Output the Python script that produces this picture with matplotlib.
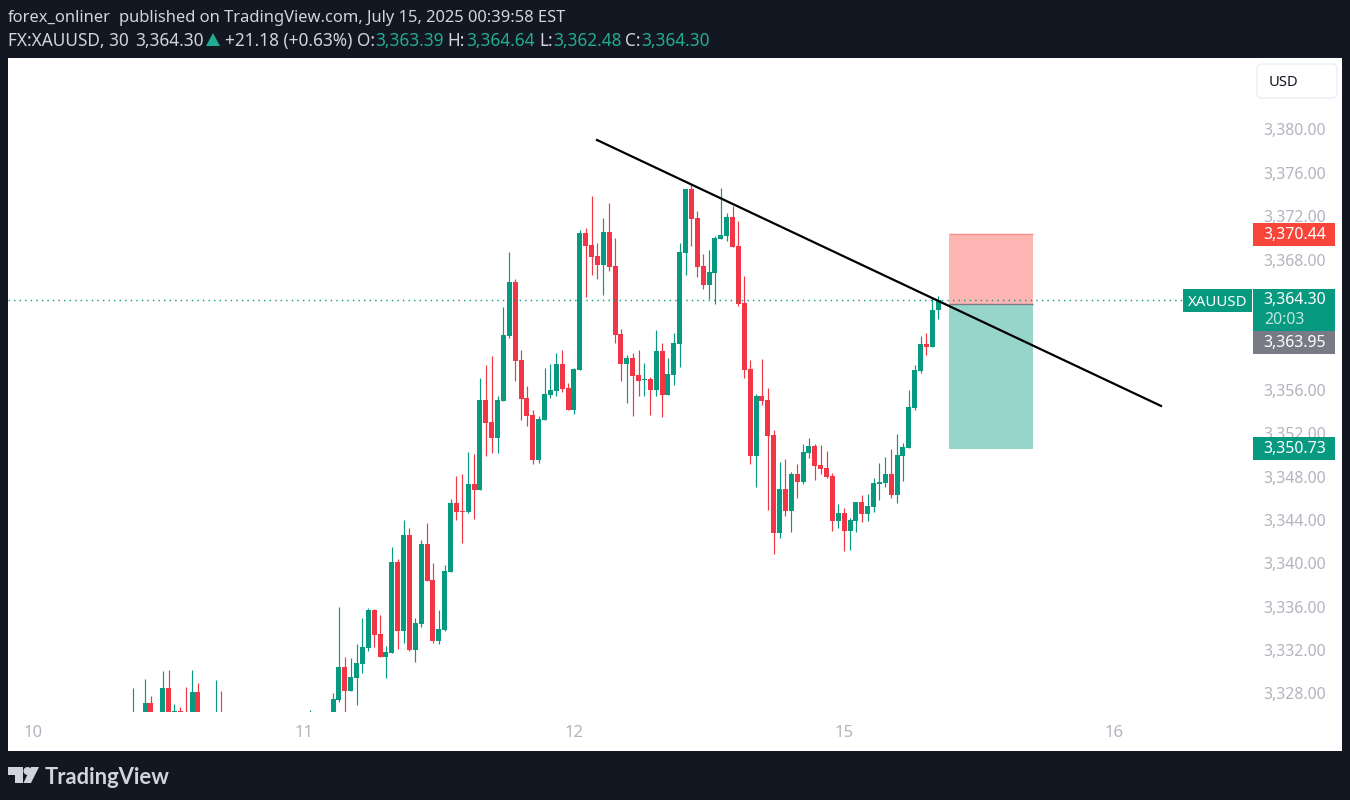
import matplotlib
matplotlib.use("Agg")
import matplotlib.pyplot as plt
from matplotlib.patches import Rectangle, FancyBboxPatch, Polygon, Circle

# ---- data ----
bar_index = [0,2,3,5,6,7,8,9,10,11,14,15,30,34,35,36,37,38,39,40,41,42,43,44,45,46,47,48,49,50,51,52,53,54,55,56,57,58,59,
             60,61,62,63,64,65,66,67,68,69,70,71,72,73,74,75,76,77,78,79,80,81,82,83,84,85,86,87,88,89,90,91,92,93,94,95,96,
             97,98,99,100,101,102,103,104,105,106,107,108,109,110,111,112,113,114,115,116,117,118,119,120,121,122,123,124,125,
             126,127,128,129,130,131,132,133,134,135,136,137]
open_ = [3325.0,3325.5,3327.12,3325.5,3328.51,3326.0,3326.39,3325.5,3325.5,3328.14,3325.0,3325.6,3325.0,3325.5,3327.40,3330.44,3328.23,3329.43,3330.72,3332.19,3335.70,3333.49,3331.36,3331.73,3340.12,3333.76,3342.61,3332.01,3334.41,3341.78,3338.46,3332.84,3333.85,3339.2,3345.56,3344.82,3344.73,3347.31,3346.76,
         3355.06,3353.03,3351.55,3354.96,3360.96,3365.94,3358.74,3355.24,3353.67,3349.52,3353.21,3355.52,3355.89,3358.38,3356.16,3354.13,3357.82,3370.45,3369.35,3368.33,3367.5,3370.55,3367.41,3361.14,3358.38,3358.93,3357.36,3356.9,3356.99,3355.98,3359.57,3355.52,3357.36,3360.22,3368.61,3374.51,3371.84,
         3367.41,3365.66,3366.77,3369.90,3370.18,3371.93,3369.25,3364.0,3357.91,3349.89,3355.42,3355.06,3351.83,3342.79,3346.85,3344.82,3348.23,3347.5,3350.17,3350.81,3349.06,3348.79,3348.05,3343.9,3344.64,3342.98,3343.9,3345.65,3344.55,
         3345.19,3347.31,3347.4,3348.23,3346.3,3349.89,3350.63,3354.32,3357.73,3360.22,3359.94,3363.39]
high = [3328.5,3329.34,3327.77,3330.07,3330.17,3327.03,3326.75,3328.6,3330.17,3328.97,3329.24,3328.23,3326.48,3328.05,3335.97,3331.36,3331.27,3332.56,3334.96,3335.88,3335.79,3335.24,3332.38,3341.51,3340.4,3344.0,3343.26,3334.96,3342.15,3343.72,3340.03,3335.7,3339.85,3345.93,3348.05,3348.24,3350.26,3350.08,3357.08,
        3358.28,3359.11,3355.42,3363.63,3368.70,3366.21,3359.67,3356.35,3354.13,3353.58,3358.0,3358.38,3359.39,3359.67,3356.62,3358.0,3370.73,3370.91,3373.86,3369.53,3371.84,3373.22,3369.99,3361.6,3359.2,3359.39,3359.67,3358.47,3357.18,3361.51,3360.31,3358.93,3361.23,3369.53,3374.51,3374.88,3372.48,
        3368.52,3368.89,3370.18,3374.6,3372.3,3372.94,3371.56,3366.49,3358.74,3355.61,3358.84,3356.16,3352.29,3349.34,3349.62,3348.42,3349.16,3351.0,3351.55,3351.0,3350.91,3350.35,3348.33,3345.47,3345.1,3344.18,3345.65,3346.3,3346.39,
        3347.86,3349.25,3349.8,3350.54,3351.92,3351.09,3355.98,3358.28,3360.96,3361.23,3364.46,3364.64]
low = [3324.5,3325.0,3325.0,3325.0,3325.0,3325.5,3325.8,3325.0,3325.0,3325.0,3324.5,3324.5,3324.5,3325.0,3327.22,3326.0,3328.23,3326.94,3329.89,3331.92,3332.29,3331.36,3329.43,3331.73,3332.1,3332.66,3331.92,3330.9,3334.13,3338.37,3332.66,3332.56,3333.76,3339.2,3344.0,3341.87,3344.64,3344.09,3346.76,
       3349.89,3350.17,3350.17,3354.96,3360.77,3356.81,3353.21,3352.66,3349.15,3349.25,3353.21,3355.24,3355.42,3355.79,3354.13,3353.76,3357.82,3364.55,3366.58,3366.21,3364.74,3366.95,3360.31,3356.81,3354.78,3353.58,3355.42,3355.42,3353.67,3355.42,3353.49,3355.52,3356.44,3358.1,3366.58,3369.25,3366.40,
       3365.29,3364.37,3363.91,3369.90,3369.72,3369.16,3363.72,3357.08,3349.15,3347.03,3354.59,3344.91,3340.86,3342.33,3344.36,3342.88,3346.02,3347.31,3349.71,3347.68,3348.23,3347.86,3342.98,3343.25,3341.13,3341.23,3342.88,3343.81,3343.9,
       3344.73,3345.84,3347.03,3346.02,3345.56,3347.59,3350.63,3354.13,3357.55,3359.2,3359.94,3362.48]
close = [3325.6,3327.12,3325.5,3328.51,3325.5,3326.39,3326.0,3325.0,3328.14,3325.5,3325.6,3325.0,3325.6,3327.49,3330.44,3328.23,3329.52,3330.81,3332.29,3335.70,3333.39,3331.36,3331.83,3340.12,3333.76,3342.61,3332.01,3334.5,3341.78,3338.37,3332.84,3333.95,3339.29,3345.56,3344.73,3344.73,3347.31,3346.76,3355.06,
         3352.94,3351.55,3355.06,3361.05,3365.94,3358.65,3355.15,3353.58,3349.52,3353.30,3355.61,3355.98,3358.38,3356.07,3354.13,3357.91,3370.45,3369.25,3368.24,3367.5,3370.55,3367.32,3361.05,3358.38,3358.93,3357.27,3356.81,3357.0,3355.98,3359.57,3355.52,3357.45,3360.31,3368.70,3374.51,3371.74,3367.32,
         3365.66,3366.86,3369.99,3370.27,3371.93,3369.16,3363.91,3357.82,3349.89,3355.42,3354.96,3351.74,3342.79,3346.85,3344.82,3348.23,3347.5,3350.26,3350.81,3348.97,3348.69,3347.96,3343.9,3344.64,3342.98,3343.99,3345.65,3344.55,3345.28,
         3347.4,3347.5,3348.23,3346.3,3349.98,3350.72,3354.41,3357.82,3360.22,3359.94,3363.35,3364.30]

price_ticks = [3380,3376,3372,3368,3356,3352,3348,3344,3340,3336,3332,3328]
day_positions = [-17,29,75,121,167]
day_labels = ["10","11","12","15","16"]
trend_x = [78.93,174.93]
trend_y = [3379.03,3354.51]
pos_x = [138.84,153.1]
pos_stop, pos_entry, pos_target = 3370.36,3363.90,3350.55
last_price = 3364.30

UP, DOWN = "#089981", "#F23645"
BG = "#131722"
FONT = ["Noto Sans","DejaVu Sans"]
plt.rcParams['font.family'] = FONT

W, H = 1350, 800
fig = plt.figure(figsize=(W/100, H/100), dpi=100, facecolor=BG)

bg = fig.add_axes([0,0,1,1], zorder=0); bg.set_xlim(0,W); bg.set_ylim(H,0); bg.axis("off")
bg.add_patch(Rectangle((8,58),1334,693,fc="white",ec="none"))

ax = fig.add_axes([8/W,(H-712)/H,1244/W,654/H], zorder=1)
ax.patch.set_alpha(0)
ax.set_xlim((8-133.3)/5.875,(1252-133.3)/5.875)
ax.set_ylim(3326.29,3386.59)
for s in ax.spines.values(): s.set_visible(False)
ax.yaxis.tick_right()
ax.set_yticks(price_ticks)
ax.set_yticklabels([f"{p:,.2f}" for p in price_ticks], fontsize=11.4, color="#B2B5BE")
ax.tick_params(axis="y", length=0, pad=8)
ax.set_xticks(day_positions)
ax.set_xticklabels(day_labels, fontsize=12, color="#B2B5BE", fontweight="bold")
ax.tick_params(axis="x", length=0, pad=9.5)

colors = [UP if c >= o else DOWN for o, c in zip(open_, close)]
ax.vlines(bar_index, low, high, colors=colors, linewidth=0.85, zorder=3)
ax.bar(bar_index, [c-o for o,c in zip(open_,close)], bottom=open_, width=0.85, color=colors, linewidth=0, zorder=4)

ax.add_patch(Rectangle((pos_x[0],pos_entry),pos_x[1]-pos_x[0],pos_stop-pos_entry,fc="#FDB6B3",ec="none",zorder=5))
ax.add_patch(Rectangle((pos_x[0],pos_target),pos_x[1]-pos_x[0],pos_entry-pos_target,fc="#97D5CA",ec="none",zorder=5))
ax.plot(pos_x,[pos_stop,pos_stop],color="#F98E8A",lw=1,zorder=6,solid_capstyle="butt")
ax.plot(pos_x,[pos_entry,pos_entry],color="#787B86",lw=1,zorder=6,solid_capstyle="butt")
ax.axhline(last_price,color=UP,lw=1,ls=(0,(1,3)),zorder=6)
ax.plot(trend_x,trend_y,color="black",lw=1.6,zorder=7)

ov = fig.add_axes([0,0,1,1], zorder=2); ov.set_xlim(0,W); ov.set_ylim(H,0); ov.axis("off"); ov.patch.set_alpha(0)

def tag(x0,y0,x1,y1,col):
    ov.add_patch(Rectangle((x0,y0),x1-x0,y1-y0,fc=col,ec="none"))

TF = 11.4
tag(1253,223,1335,246,"#F7453A")
ov.text(1295,235,"3,370.44",color="white",fontsize=TF,ha="center",va="center",fontweight="medium")
tag(1183,289,1252,312,UP)
ov.text(1217.5,302,"XAUUSD",color="white",fontsize=10.8,ha="center",va="center",fontweight="medium")
tag(1253,289,1335,331,UP)
ov.text(1295,300,"3,364.30",color="white",fontsize=TF,ha="center",va="center",fontweight="medium")
ov.text(1264,320.5,"20:03",color="#BFE6DE",fontsize=TF,ha="left",va="center")
tag(1253,331,1335,354,"#787B86")
ov.text(1295,343,"3,363.95",color="white",fontsize=TF,ha="center",va="center",fontweight="medium")
tag(1253,437,1335,460,UP)
ov.text(1295,449,"3,350.73",color="white",fontsize=TF,ha="center",va="center",fontweight="medium")
ov.add_patch(FancyBboxPatch((1259,66),76,30,boxstyle="round,pad=2,rounding_size=5",fc="white",ec="#EDEEF1",lw=1))
ov.text(1269,83,"USD",color="#131722",fontsize=10.6,ha="left",va="center")

LIGHT = "#D1D4DC"; TEAL = "#22AB94"
ov.text(8,18,"forex_onliner",color=LIGHT,fontsize=11.9,fontweight="bold",ha="left",va="center")
ov.text(119,18,"published on TradingView.com, July 15, 2025 00:39:58 EST",color=LIGHT,fontsize=11.9,ha="left",va="center")
line2 = [(8,"FX:XAUUSD, 30",LIGHT),(135,"3,364.30",LIGHT),(225,"+21.18 (+0.63%)",LIGHT),(357,"O:",LIGHT),(375,"3,363.39",TEAL),
         (447,"H:",LIGHT),(466,"3,364.64",TEAL),(539,"L:",LIGHT),(553,"3,362.48",TEAL),(625,"C:",LIGHT),(641,"3,364.30",TEAL)]
for x,s,c in line2:
    ov.text(x,41,s,color=c,fontsize=12.4,ha="left",va="center")
ov.add_patch(Polygon([(206,46),(220,46),(213,33)],fc=TEAL,ec="none"))

LOGO="#D1D4DC"
ov.add_patch(Polygon([(8,767),(23,767),(23,783),(15,783),(15,775),(8,775)],fc=LOGO,ec="none"))
ov.add_patch(Circle((27.5,771),4,fc=LOGO,ec="none"))
ov.add_patch(Polygon([(31,767),(39,767),(31,783),(23.5,783)],fc=LOGO,ec="none"))
ov.text(45,777,"TradingView",color=LOGO,fontsize=15.8,fontweight="bold",ha="left",va="center",family=["Lato","DejaVu Sans"])

fig.savefig("out.png",dpi=100,facecolor=BG)
